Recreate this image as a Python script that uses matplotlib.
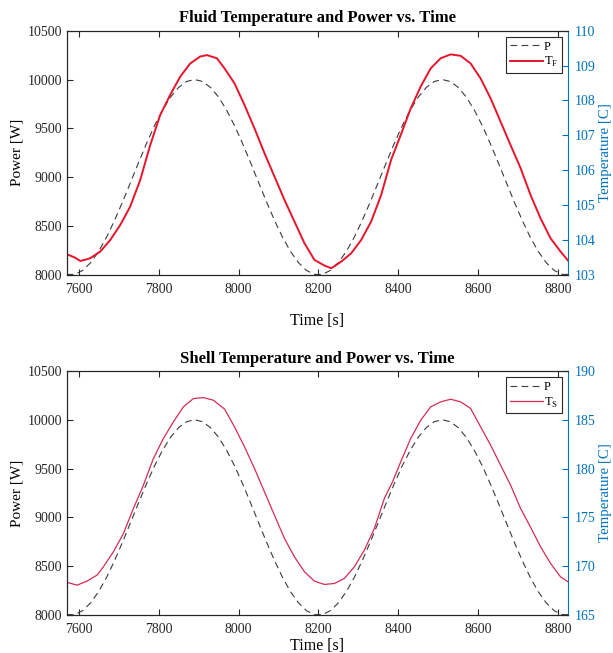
import matplotlib
matplotlib.use("Agg")
import matplotlib.pyplot as plt

plt.rcParams['font.family'] = ['Liberation Serif', 'DejaVu Serif']
plt.rcParams['mathtext.fontset'] = 'custom'
plt.rcParams['mathtext.rm'] = 'Liberation Serif'

# power input, sampled every 20 s
t_power = list(range(7570, 8831, 20))
power = [8005, 8005, 8046, 8126, 8241, 8388, 8560, 8749, 8949, 9151, 9347, 9529, 9689, 9821, 9919, 9980,
         10000, 9980, 9919, 9821, 9689, 9529, 9347, 9151, 8949, 8749, 8560, 8388, 8241, 8126, 8046,
         8005, 8005, 8046, 8126, 8241, 8388, 8560, 8749, 8949, 9151, 9347, 9529, 9689, 9821, 9919, 9980,
         10000, 9980, 9919, 9821, 9689, 9529, 9347, 9151, 8949, 8749, 8560, 8388, 8241, 8126, 8046,
         8005, 8005]

# fluid temperature
t_fluid = [7571, 7590, 7604, 7618, 7629, 7654, 7679, 7704, 7729, 7754, 7779, 7804, 7829, 7854, 7879, 7904,
           7921, 7946, 7965, 7990, 8015, 8040, 8065, 8090, 8115, 8140, 8165, 8190, 8215, 8232,
           8257, 8282, 8307, 8332, 8357, 8382, 8406, 8431, 8456, 8481, 8506, 8531, 8556, 8581,
           8606, 8631, 8656, 8681, 8706, 8731, 8756, 8781, 8806, 8827]
temp_fluid = [103.59, 103.50, 103.40, 103.44, 103.48, 103.67, 104.00, 104.43, 104.96, 105.72, 106.72, 107.58,
              108.16, 108.68, 109.06, 109.26, 109.30, 109.21, 108.92, 108.49, 107.87, 107.20, 106.49,
              105.82, 105.15, 104.53, 103.91, 103.43, 103.27, 103.19, 103.38, 103.62, 104.00, 104.53,
              105.29, 106.30, 107.01, 107.77, 108.40, 108.92, 109.21, 109.32, 109.28, 109.06, 108.63,
              108.06, 107.39, 106.72, 106.06, 105.29, 104.62, 104.05, 103.67, 103.38]

# shell temperature
t_shell = [7571, 7596, 7621, 7646, 7662, 7687, 7712, 7737, 7762, 7787, 7812, 7837, 7862, 7887, 7912, 7937,
           7965, 7990, 8015, 8040, 8065, 8090, 8115, 8140, 8165, 8190, 8215, 8240, 8265, 8290,
           8315, 8340, 8365, 8385, 8406, 8431, 8456, 8481, 8506, 8531, 8556, 8581, 8606, 8631,
           8656, 8681, 8706, 8731, 8756, 8781, 8806, 8827]
temp_shell = [168.35, 168.07, 168.48, 169.10, 169.95, 171.49, 173.36, 175.92, 178.30, 181.03, 183.08, 184.78,
              186.32, 187.17, 187.27, 187.00, 186.10, 184.27, 182.23, 180.01, 177.62, 175.23, 172.85,
              170.97, 169.44, 168.48, 168.14, 168.24, 168.75, 169.95, 171.65, 173.87, 176.94, 178.60,
              180.69, 183.08, 184.95, 186.32, 186.83, 187.10, 186.83, 186.15, 184.27, 182.40, 180.35,
              178.30, 175.92, 174.00, 172.00, 170.29, 168.92, 168.35]

blue = '#0072BD'
axcol = '#262626'


def make_panel(rect, title, t_temp, temp, tlim, tlabel, color, lw, xpad):
    ax = fig.add_axes(rect)
    ax2 = ax.twinx()
    l1, = ax.plot(t_power, power, color='#3a3a3a', lw=0.8, ls=(0, (6, 4)), label='P')
    l2, = ax2.plot(t_temp, temp, color=color, lw=lw, label=tlabel)
    ax.set_xlim(7570, 8825)
    ax.set_ylim(8000, 10500)
    ax2.set_ylim(*tlim)
    ax.set_xticks([7600, 7800, 8000, 8200, 8400, 8600, 8800])
    ax.set_yticks([8000, 8500, 9000, 9500, 10000, 10500])
    ax.set_title(title, fontsize=12, fontweight='bold', pad=6)
    ax.set_xlabel('Time [s]', fontsize=11.5, labelpad=xpad)
    ax.set_ylabel('Power [W]', fontsize=11, labelpad=3)
    ax2.set_ylabel('Temperature [C]', fontsize=10.7, color=blue, labelpad=2)
    ax.tick_params(direction='in', top=True, labelsize=10, colors=axcol, length=4)
    ax.tick_params(axis='x', pad=6)
    ax2.tick_params(direction='in', labelsize=10, colors=blue, length=4, pad=5)
    for s in ['left', 'bottom', 'top']:
        ax2.spines[s].set_color(axcol)
    ax2.spines['right'].set_color(blue)
    ax.spines['right'].set_visible(False)
    leg = ax.legend([l1, l2], ['P', tlabel], loc='upper right', fontsize=9, handlelength=2.6,
                    fancybox=False, edgecolor=axcol, borderpad=0.3, labelspacing=0.2,
                    handletextpad=0.1, borderaxespad=0.5, framealpha=1)
    leg.get_frame().set_linewidth(0.8)
    return ax


fig = plt.figure(figsize=(6.13, 6.53), dpi=100)
make_panel([0.1088, 0.579, 0.818, 0.374], 'Fluid Temperature and Power vs. Time',
           t_fluid, temp_fluid, (103, 110), r'T$_\mathrm{F}$', '#e8142c', 1.4, 12)
make_panel([0.1088, 0.058, 0.818, 0.374], 'Shell Temperature and Power vs. Time',
           t_shell, temp_shell, (165, 190), r'T$_\mathrm{S}$', '#d42c55', 0.9, 1)
fig.savefig('out.png', dpi=100)
